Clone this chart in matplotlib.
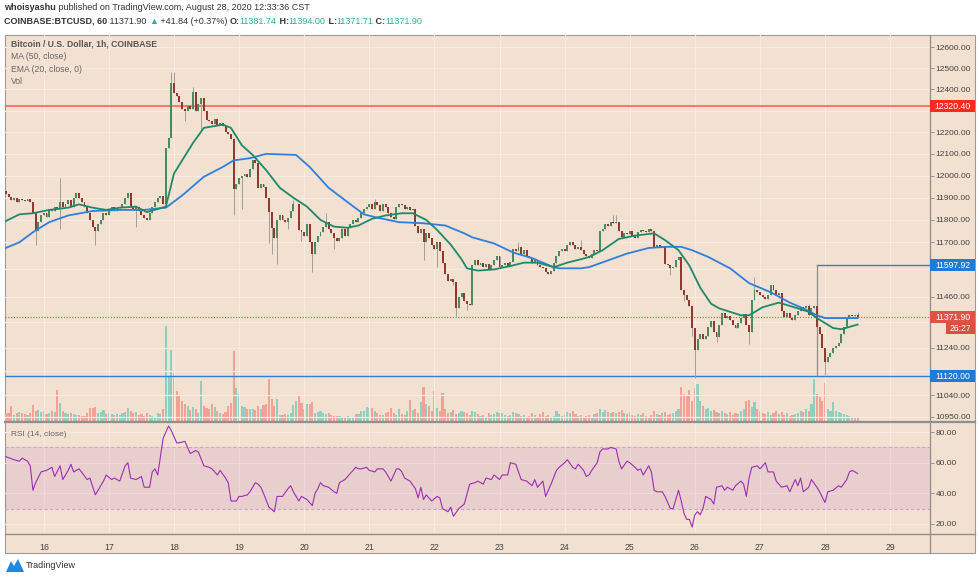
import matplotlib
matplotlib.use("Agg")
import matplotlib.pyplot as plt
from matplotlib.patches import Rectangle, Polygon
from matplotlib.lines import Line2D
from matplotlib.ticker import FixedLocator, FixedFormatter, NullLocator

plt.rcParams['font.family'] = ['Liberation Sans', 'DejaVu Sans']

W, H = 980, 580
BEIGE = '#f2e0d0'
GRID = '#f8ebe2'
FRAME = '#9b9b9b'
TXT = '#444444'
TEAL = '#2bae9f'

# hourly closes, Aug 15 10:00 -> Aug 28 12:00 (BTCUSD, Coinbase)
first_open = 11930
closes = [
    11915, 11905, 11890, 11900, 11880, 11895, 11890, 11885, 11895, 11880,
    11830, 11750, 11790, 11820, 11830, 11815, 11850, 11840, 11860, 11850,
    11880, 11860, 11870, 11890, 11860, 11900, 11920, 11900, 11880, 11860,
    11830, 11800, 11770, 11750, 11780, 11800, 11830, 11820, 11850, 11860,
    11840, 11855, 11860, 11870, 11900, 11920, 11860, 11850, 11860, 11840,
    11820, 11810, 11800, 11830, 11860, 11880, 11900, 11910, 11870,
    12125, 12175, 12430, 12385, 12370, 12340, 12310, 12300, 12320, 12310,
    12390, 12300, 12330, 12360, 12300, 12255, 12250, 12240, 12260, 12235,
    12245, 12230, 12200, 12190, 12170, 11940,
    11960, 11990, 12000, 12010, 11995, 12030, 12070, 12060, 11945, 11960,
    11950, 11900, 11835, 11765, 11720, 11800, 11820, 11800, 11790, 11810,
    11840, 11870, 11870, 11755, 11745, 11730, 11780, 11700, 11650, 11700,
    11730, 11745, 11770, 11790, 11760, 11740, 11720, 11705, 11720, 11760,
    11730, 11765, 11780, 11800, 11790, 11810, 11830, 11850, 11860, 11870,
    11850, 11880, 11865, 11840, 11870, 11860, 11830, 11815, 11805, 11860,
    11870, 11865, 11850, 11860, 11845, 11850, 11775, 11740, 11760, 11700,
    11740, 11720, 11690, 11670, 11700, 11660, 11610, 11560, 11530, 11540,
    11525, 11410, 11460, 11475, 11440, 11430, 11425, 11600, 11620, 11600,
    11610, 11590, 11605, 11580, 11600, 11620, 11640, 11590, 11600, 11610,
    11595, 11615, 11670, 11660, 11680, 11650, 11665, 11640, 11630, 11610,
    11620, 11600, 11590, 11585, 11570, 11560, 11575, 11610, 11640, 11660,
    11670, 11660, 11690, 11700, 11690, 11670, 11680, 11665, 11650, 11640,
    11630, 11650, 11665, 11660, 11750, 11760, 11780, 11775, 11790, 11785,
    11790, 11750, 11725, 11740, 11735, 11750, 11730, 11720, 11745, 11755,
    11750, 11745, 11760, 11750, 11680, 11690, 11680, 11685, 11605, 11600,
    11585, 11590, 11620, 11635, 11490, 11470, 11445, 11420, 11325, 11230,
    11280, 11300, 11280, 11290, 11330, 11355, 11310, 11285, 11340, 11390,
    11370, 11375, 11360, 11340, 11325, 11345, 11370, 11385, 11340, 11310,
    11445, 11490, 11480, 11470, 11460, 11450, 11470, 11510, 11490, 11470,
    11475, 11400, 11372, 11390, 11370, 11360, 11380, 11400, 11415, 11410,
    11420, 11380, 11410, 11420, 11330, 11300, 11240, 11180, 11200, 11220,
    11240, 11250, 11260, 11300, 11330, 11370, 11380, 11375, 11381.74, 11371.90,
]

# wicks that stick out of the bodies
wick_highs = {20: 11990, 61: 12480, 62: 12480, 69: 12410, 106: 11890, 118: 11830,
              136: 11895, 189: 11700, 212: 11710, 224: 11820, 225: 11820,
              276: 11545, 296: 11430, 314: 11394}
wick_lows = {11: 11690, 20: 11760, 33: 11690, 48: 11770, 66: 12250, 72: 12215,
             84: 11820, 87: 11850, 97: 11695, 98: 11650, 100: 11605, 104: 11760,
             109: 11705, 113: 11570, 121: 11670, 154: 11620, 159: 11590,
             165: 11510, 166: 11375, 170: 11405, 245: 11555, 250: 11440,
             253: 11290, 254: 11110, 262: 11265, 274: 11255, 302: 11125}

volume = [
    7, 8, 15, 6, 8, 9, 8, 7, 6, 8,
    16, 10, 11, 9, 10, 7, 8, 10, 9, 31,
    18, 10, 8, 7, 8, 7, 6, 6, 5, 5,
    8, 13, 13, 14, 8, 9, 11, 7, 8, 7,
    6, 7, 6, 8, 9, 13, 10, 8, 9, 6,
    7, 5, 8, 6, 5, 4, 8, 7, 12,
    95, 45, 71, 48, 30, 25, 20, 17, 15, 11,
    14, 12, 8, 40, 15, 13, 12, 17, 14, 10,
    8, 7, 9, 15, 18, 70,
    33, 28, 15, 14, 12, 12, 12, 11, 15, 12,
    16, 17, 42, 22, 15, 22, 6, 6, 7, 6,
    8, 16, 20, 26, 18, 12, 17, 17, 19, 8,
    9, 10, 8, 7, 8, 6, 5, 5, 5, 4,
    4, 5, 4, 4, 7, 7, 10, 10, 14, 13,
    13, 10, 8, 6, 6, 8, 9, 13, 8, 6,
    12, 7, 6, 10, 21, 11, 12, 8, 19, 34,
    17, 15, 10, 30, 13, 10, 28, 12, 8, 9,
    11, 7, 8, 10, 9, 8, 6, 10, 9, 7,
    5, 6, 4, 8, 6, 7, 9, 8, 8, 6,
    5, 6, 9, 8, 7, 5, 6, 4, 5, 8,
    6, 4, 7, 9, 5, 6, 4, 5, 10, 7,
    5, 6, 9, 8, 10, 7, 5, 6, 4, 5,
    6, 4, 7, 8, 12, 9, 11, 9, 8, 9,
    8, 9, 11, 8, 7, 9, 6, 5, 7, 6,
    8, 5, 4, 6, 10, 7, 6, 8, 9, 6,
    7, 8, 10, 12, 34, 27, 25, 31, 20, 33,
    37, 20, 15, 12, 13, 10, 11, 9, 8, 10,
    8, 7, 9, 6, 8, 7, 10, 12, 20, 21,
    14, 19, 12, 10, 8, 7, 9, 6, 8, 10,
    7, 9, 6, 8, 5, 6, 7, 8, 10, 9,
    12, 10, 17, 42, 27, 24, 20, 38, 12, 10,
    19, 10, 9, 8, 7, 6, 5, 4, 4, 3,
]

# MA(50) and EMA(20) (hour index, price)
ma_hours = [0, 5, 10, 16, 23, 32, 42, 51, 59, 65, 73, 80, 84, 90, 96, 107, 112, 119,
            126, 132, 137, 145, 154, 162, 169, 172, 180, 187, 194, 202, 204, 212,
            215, 222, 229, 237, 244, 249, 253, 259, 267, 274, 282, 289, 294, 299, 302, 314]
ma_vals = [11675, 11700, 11745, 11790, 11820, 11840, 11845, 11845, 11855, 11910, 11995,
           12040, 12070, 12080, 12100, 12095, 12040, 11945, 11880, 11825, 11810, 11790,
           11785, 11775, 11740, 11722, 11695, 11655, 11630, 11590, 11585, 11585, 11590,
           11620, 11650, 11675, 11680, 11680, 11665, 11635, 11585, 11520, 11480, 11435,
           11410, 11380, 11368, 11368]
ema_hours = [0, 5, 10, 16, 23, 27, 32, 37, 42, 48, 52, 59, 62, 69, 73, 80, 83, 87, 91,
             96, 101, 106, 111, 116, 121, 126, 130, 135, 140, 146, 150, 155, 159, 164,
             168, 170, 174, 180, 186, 191, 196, 202, 207, 212, 215, 220, 226, 232, 239,
             243, 248, 252, 256, 260, 263, 271, 274, 279, 285, 292, 296, 299, 305, 308, 314]
ema_vals = [11795, 11825, 11830, 11845, 11855, 11870, 11855, 11845, 11855, 11860, 11835,
            11860, 12010, 12150, 12220, 12235, 12220, 12140, 12095, 12025, 11945, 11900,
            11860, 11800, 11770, 11765, 11775, 11805, 11820, 11830, 11830, 11800, 11755,
            11690, 11625, 11585, 11575, 11580, 11595, 11610, 11610, 11590, 11610, 11625,
            11635, 11665, 11715, 11730, 11740, 11710, 11665, 11597, 11500, 11430, 11410,
            11380, 11380, 11415, 11435, 11410, 11395, 11368, 11325, 11320, 11340]

# RSI(14) (hour index, value)
rsi_points = [
    (0, 64), (3, 62), (5, 61), (6, 63), (8, 61), (9, 58), (10, 42), (11, 47), (13, 54),
    (15, 55), (17, 57), (18, 51), (20, 58), (21, 49), (23, 55), (24, 59), (25, 54),
    (27, 56), (30, 49), (31, 50), (33, 39), (35, 45), (36, 48), (37, 52), (39, 49),
    (40, 50), (42, 48), (44, 58), (45, 60), (46, 50), (48, 49), (50, 51), (51, 44),
    (53, 44), (54, 54), (55, 56), (56, 52), (58, 76), (60, 84), (61, 81), (63, 73),
    (64, 73), (66, 74), (68, 66), (70, 68), (71, 67), (73, 58), (75, 57), (76, 56),
    (78, 52), (79, 55), (81, 50), (82, 47), (83, 35), (85, 35), (86, 38), (87, 38),
    (89, 39), (90, 41), (92, 47), (93, 46), (94, 44), (95, 40), (97, 31), (99, 28),
    (100, 38), (101, 38), (102, 38), (104, 43), (105, 45), (106, 41), (108, 35),
    (109, 38), (111, 36), (113, 32), (114, 40), (115, 43), (116, 47), (117, 45),
    (119, 44), (121, 41), (122, 40), (123, 47), (125, 49), (126, 51), (128, 55),
    (129, 57), (130, 56), (131, 56), (133, 57), (134, 55), (136, 54), (137, 56),
    (139, 56), (140, 54), (142, 48), (144, 56), (145, 56), (146, 54), (147, 50),
    (149, 48), (151, 43), (152, 37), (153, 44), (154, 36), (155, 39), (157, 35),
    (159, 38), (160, 37), (161, 30), (163, 28), (164, 31), (165, 25), (167, 30),
    (169, 33), (171, 46), (173, 47), (174, 48), (176, 46), (177, 50), (179, 49),
    (180, 52), (182, 49), (183, 52), (185, 52), (186, 60), (188, 59), (190, 49),
    (192, 48), (194, 45), (195, 49), (196, 44), (198, 48), (199, 38), (201, 46),
    (203, 55), (204, 57), (206, 60), (207, 62), (209, 57), (210, 56), (211, 59),
    (213, 55), (214, 51), (215, 52), (216, 55), (218, 60), (219, 67), (220, 69),
    (222, 69), (223, 70), (225, 69), (226, 61), (227, 56), (229, 61), (230, 60),
    (232, 57), (233, 55), (234, 56), (235, 52), (237, 58), (238, 54), (239, 42),
    (240, 41), (242, 41), (243, 38), (245, 30), (246, 30), (248, 42), (249, 35),
    (250, 27), (251, 23), (252, 23), (253, 18), (254, 26), (255, 28), (256, 26),
    (257, 30), (258, 38), (260, 36), (261, 33), (262, 44), (264, 45), (265, 42),
    (266, 44), (268, 42), (269, 45), (271, 48), (272, 46), (273, 38), (274, 50),
    (275, 57), (277, 58), (278, 56), (280, 60), (281, 54), (283, 54), (284, 48),
    (286, 44), (288, 45), (289, 41), (291, 49), (292, 45), (293, 50), (294, 41),
    (296, 44), (297, 49), (299, 44), (300, 41), (302, 34), (303, 41), (305, 42),
    (307, 45), (308, 44), (310, 49), (311, 54), (312, 55), (313, 54), (314, 53),
]

days = ['16', '17', '18', '19', '20', '21', '22', '23', '24', '25', '26', '27', '28', '29']
day_hours = [14 + 24 * k for k in range(len(days))]   # midnight of each day

price_grid = [12600, 12500, 12400, 12300, 12200, 12100, 12000, 11900, 11800,
              11700, 11580, 11460, 11350, 11240, 11140, 11040, 10950]
hidden_labels = [12300, 11580, 11350, 11140]
resistance = 12320.40
support = 11120.00
target = 11597.92
target_start = 299
last_price = 11371.90
countdown = '26:27'


def fx(px):
    return px / W


def fy(py):
    return 1 - py / H


n = len(closes)
hours = list(range(n))
opens = [first_open] + closes[:-1]
highs = [max(o, c) for o, c in zip(opens, closes)]
lows = [min(o, c) for o, c in zip(opens, closes)]
for k, v in wick_highs.items():
    highs[k] = v
for k, v in wick_lows.items():
    lows[k] = v
up = [c >= o for o, c in zip(opens, closes)]

fig = plt.figure(figsize=(W / 100, H / 100), dpi=100)
fig.patch.set_facecolor('white')
fig.patches.append(Rectangle((fx(5), fy(553)), fx(970), 518 / H, transform=fig.transFigure,
                             facecolor=BEIGE, edgecolor=FRAME, lw=0.8, zorder=-5))

x0, x1 = -0.3, 340.7
rect_main = [fx(5), fy(421), fx(925), 386 / H]
rect_rsi = [fx(5), fy(533), fx(925), 111 / H]

# volume pane underneath
vol = fig.add_axes(rect_main)
vol.set_facecolor('none')
vol.axis('off')
vol.bar(hours, volume, width=0.78,
        color=['#8fcfbf' if u else '#f3a195' for u in up], linewidth=0)
vol.set_xlim(x0, x1)
vol.set_ylim(0, 386)

ax = fig.add_axes(rect_main)
ax.set_facecolor('none')
ax.set_yscale('log')
ax.set_ylim(10932, 12659)
ax.set_xlim(x0, x1)
for s in ax.spines.values():
    s.set_visible(False)
ax.yaxis.tick_right()
ax.yaxis.set_major_locator(FixedLocator(price_grid))
ax.yaxis.set_major_formatter(FixedFormatter(
    ['' if p in hidden_labels else '%.2f' % p for p in price_grid]))
ax.yaxis.set_minor_locator(NullLocator())
ax.tick_params(axis='y', labelsize=6, labelcolor=TXT, color='#888888', length=3,
               width=0.6, pad=1)
ax.set_xticks(day_hours)
ax.tick_params(axis='x', length=0, labelbottom=False)
ax.grid(True, color=GRID, lw=0.9, zorder=0)
ax.set_axisbelow(True)

ax.axhline(resistance, color='#ff5a52', lw=1.1, zorder=2)
ax.axhline(support, color='#2f80d8', lw=1.0, zorder=2)
ax.plot([target_start, x1], [target, target], color='#2f80d8', lw=1.0, zorder=2)
ax.vlines(target_start, support, target, color='#8c8c8c', lw=0.9, zorder=2)
ax.axhline(last_price, color='#e0533f', lw=0.8, ls=(0, (1, 1.5)), zorder=2)

ax.vlines(hours, lows, highs, color='#a39d98', lw=0.7, zorder=3)
bottoms = [min(o, c) for o, c in zip(opens, closes)]
heights = [max(abs(c - o), 1.5) for o, c in zip(opens, closes)]
ax.bar(hours, heights, bottom=bottoms, width=0.72,
       color=['#4a8a5e' if u else '#8f3a2c' for u in up], linewidth=0, zorder=4)

ax.plot(ma_hours, ma_vals, color='#2f7fde', lw=1.3, zorder=5)
ax.plot(ema_hours, ema_vals, color='#1d8a6c', lw=1.3, zorder=5)

# RSI pane
rsi = fig.add_axes(rect_rsi)
rsi.set_facecolor('none')
rsi.set_xlim(x0, x1)
rsi.set_ylim(14.1, 86.6)
for s in rsi.spines.values():
    s.set_visible(False)
rsi.axhspan(30, 70, color='#b04cc0', alpha=0.12, lw=0, zorder=1)
rsi.axhline(70, color='#c9a6cb', lw=0.8, ls=(0, (3, 2)), zorder=2)
rsi.axhline(30, color='#c9a6cb', lw=0.8, ls=(0, (3, 2)), zorder=2)
rsi.plot([p[0] for p in rsi_points], [p[1] for p in rsi_points],
         color='#9b2fb3', lw=0.8, zorder=3)
rsi.yaxis.tick_right()
rsi.set_yticks([20, 40, 60, 80])
rsi.set_yticklabels(['20.00', '40.00', '60.00', '80.00'])
rsi.tick_params(axis='y', labelsize=6, labelcolor=TXT, color='#888888', length=3,
                width=0.6, pad=1)
rsi.set_xticks(day_hours)
rsi.set_xticklabels(days)
rsi.tick_params(axis='x', labelsize=6.3, labelcolor=TXT, length=0, pad=7)
rsi.grid(True, color=GRID, lw=0.9, zorder=0)
rsi.set_axisbelow(True)

# pane separators and price-scale border
fig.add_artist(Line2D([fx(5), fx(975)], [fy(421.5), fy(421.5)], color='#8f8f8f', lw=1.6))
fig.add_artist(Line2D([fx(5), fx(975)], [fy(533.5), fy(533.5)], color='#8f8f8f', lw=1.0))
fig.add_artist(Line2D([fx(930), fx(930)], [fy(35), fy(553)], color='#8f8f8f', lw=0.9))


def tag(price, text, fc, dy=0, left=930):
    yd = ax.transData.transform((0, price))[1] - dy
    fig.patches.append(Rectangle((fx(left), (yd - 6) / H), (975 - left) / W, 12 / H,
                                 transform=fig.transFigure, facecolor=fc,
                                 edgecolor='none', zorder=6))
    fig.text(fx((left + 975) / 2), yd / H, text, color='white', fontsize=6.2,
             ha='center', va='center', zorder=7)


tag(resistance, '%.2f' % resistance, '#ff2a1f')
tag(target, '%.2f' % target, '#1f7ad8')
tag(last_price, '%.2f' % last_price, '#dd5446')
tag(last_price, countdown, '#d9503f', dy=11, left=946)
tag(support, '%.2f' % support, '#1f7ad8')

# header lines
renderer = fig.canvas.get_renderer()


def chain(x, y, parts, size):
    for s, color, weight in parts:
        t = fig.text(x, y, s, color=color, fontsize=size, fontweight=weight,
                     va='center', ha='left')
        x = t.get_window_extent(renderer).x1 / W


chain(fx(4), fy(8), [('whoisyashu', '#333333', 'bold'),
                     (' published on TradingView.com, August 28, 2020 12:33:36 CST',
                      '#333333', 'normal')], 6.5)
chain(fx(4), fy(21), [('COINBASE:BTCUSD, 60', '#333333', 'bold'),
                      (' 11371.90 ', '#333333', 'normal'),
                      ('\u25b2', TEAL, 'normal'),
                      (' +41.84 (+0.37%) ', '#333333', 'normal'),
                      ('O:', '#333333', 'bold'), ('11381.74', TEAL, 'normal'),
                      (' H:', '#333333', 'bold'), ('11394.00', TEAL, 'normal'),
                      (' L:', '#333333', 'bold'), ('11371.71', TEAL, 'normal'),
                      (' C:', '#333333', 'bold'), ('11371.90', TEAL, 'normal')], 6.5)

fig.text(fx(11), fy(44), 'Bitcoin / U.S. Dollar, 1h, COINBASE', color='#555555',
         fontsize=6.2, fontweight='bold', va='center')
for label, yy in [('MA (50, close)', 56.5), ('EMA (20, close, 0)', 69), ('Vol', 81)]:
    fig.text(fx(11), fy(yy), label, color='#666666', fontsize=6.2, va='center')
fig.text(fx(11), fy(434), 'RSI (14, close)', color='#666666', fontsize=6, va='center')

# TradingView mark
fig.patches.append(Polygon([(fx(6), fy(572)), (fx(11), fy(561)), (fx(14), fy(566)),
                            (fx(18), fy(559)), (fx(24), fy(572))],
                           closed=True, transform=fig.transFigure,
                           facecolor='#1e88e5', edgecolor='none'))
fig.text(fx(26), fy(566), 'TradingView', color='#333333', fontsize=6.5, va='center')

fig.savefig('out.png', dpi=100, facecolor='white')
